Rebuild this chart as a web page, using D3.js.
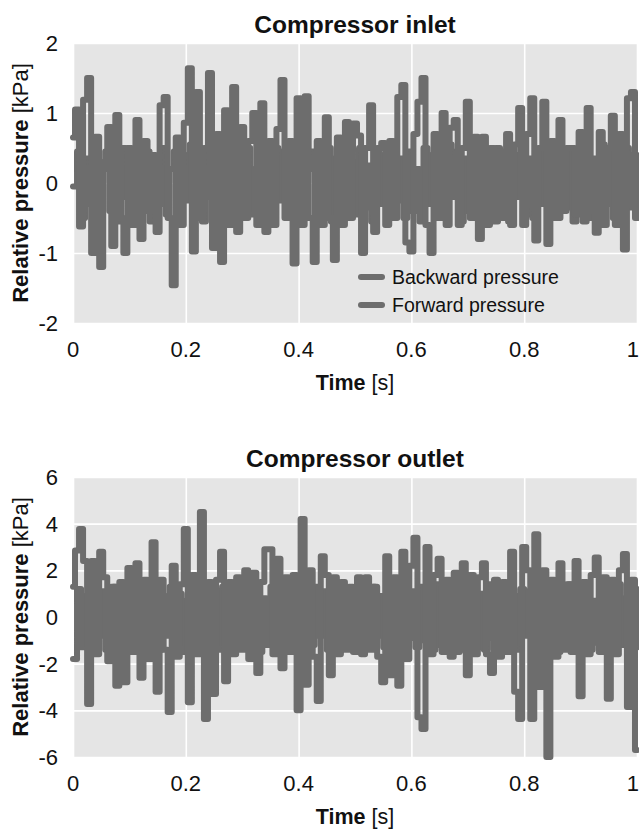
<!DOCTYPE html>
<html>
<head>
<meta charset="utf-8">
<script src="https://cdn.jsdelivr.net/npm/d3@7"></script>
<style>
  html, body { margin: 0; padding: 0; background: #ffffff; }
  svg { display: block; font-family: "Liberation Sans", Arial, Helvetica, sans-serif; }
</style>
</head>
<body>
<svg id="chart" width="639" height="829"></svg>
<script>
// Pressure traces sampled over one second (141 samples per trace)
const inletBackward = [
  -0.05, 0.45, -0.5, 0.35, -0.3, 0.5, -0.55, 0.2, 0.45, -0.4,
  0.3, -0.55, 0.5, -0.2, 0.4, -0.5, 0.25, -0.35, 0.45, -0.55,
  0.35, -0.3, 0.5, -0.45, 0.2, 0.45, -0.5, 0.4, -0.25, 0.55,
  -0.45, 0.3, -0.55, 0.45, -0.2, 0.35, -0.5, 0.5, -0.4, 0.25,
  -0.55, 0.45, -0.3, 0.5, -0.45, 0.2, 0.4, -0.5, 0.35, -0.55,
  0.5, -0.25, 0.45, -0.5, 0.3, -0.4, 0.55, -0.35, 0.2, 0.45,
  -0.5, 0.4, -0.3, 0.5, -0.55, 0.35, -0.2, 0.45, -0.5, 0.3,
  -0.45, 0.5, -0.35, 0.25, -0.55, 0.45, -0.3, 0.4, -0.5, 0.55,
  -0.25, 0.35, -0.5, 0.45, -0.4, 0.2, -0.55, 0.5, -0.3, 0.4,
  -0.45, 0.3, -0.5, 0.55, -0.2, 0.45, -0.55, 0.35, -0.4, 0.5,
  -0.3, 0.25, -0.5, 0.45, -0.35, 0.5, -0.45, 0.3, -0.55, 0.4,
  -0.2, 0.5, -0.45, 0.35, -0.5, 0.45, -0.3, 0.55, -0.4, 0.25,
  -0.5, 0.4, -0.35, 0.5, -0.55, 0.3, -0.25, 0.45, -0.5, 0.35,
  -0.4, 0.55, -0.3, 0.45, -0.5, 0.2, -0.45, 0.5, -0.35, 0.4,
  -0.5
];

const inletForward = [
  0.65, 1.05, -0.62, 1.19, 1.5, -1.0, 0.66, -1.2, 0.3, 0.8,
  -0.9, 0.97, -0.5, -1.0, 0.5, -0.6, 0.9, -0.8, 0.6, -0.4,
  0.4, -0.7, 1.11, 1.23, -0.5, -1.46, 0.65, -0.6, 0.86, 1.64,
  -0.98, 1.3, -0.5, 0.5, 1.57, -0.93, 0.7, -1.13, 1.04, -0.6,
  1.37, -0.7, 0.8, -0.5, 0.6, 1.0, -0.6, 1.14, -0.7, 0.6,
  -0.6, 0.77, 1.47, -0.5, 0.6, -1.15, 1.21, -0.6, 1.24, -0.5,
  -1.13, 0.6, -0.6, 0.94, -0.5, -1.1, 0.65, -0.6, 0.87, -0.5,
  0.85, 0.68, -1.0, 0.5, 1.11, -0.7, 0.5, 0.57, -0.6, 0.6,
  -0.5, 1.23, 1.4, -0.85, -0.98, 0.7, 1.16, 1.5, -0.6, -1.0,
  0.7, -0.5, 1.0, -0.6, 0.79, 0.9, -0.6, 0.5, 1.16, -0.5,
  0.66, -0.8, 0.66, -0.6, 0.5, -0.55, 0.45, -0.5, 0.7, -0.6,
  0.55, 1.07, -0.6, 0.7, 1.21, -0.82, 0.5, 1.16, -0.87, 0.6,
  -0.5, 0.9, -0.4, 0.5, 0.5, -0.45, 0.73, -0.55, 1.07, -0.4,
  -0.71, 0.73, -0.6, 0.5, 0.96, -0.6, 0.7, -0.95, 1.21, 1.3,
  -0.5
];

const outletBackward = [
  -1.8, 1.2, -1.3, 0.9, -1.1, 1.4, -0.8, 1.1, -1.4, 0.7,
  1.3, -1.2, 0.8, -1.5, 1.1, -0.9, 1.4, -1.3, 0.6, -1.1,
  1.2, -1.4, 0.9, -0.8, 1.3, -1.2, 1.0, -1.5, 0.7, 1.1,
  -1.3, 1.4, -0.9, 0.8, -1.2, 1.1, -1.4, 1.3, -0.7, 0.9,
  -1.3, 1.2, -1.1, 1.4, -0.8, 1.0, -1.5, 0.8, -1.2, 1.3,
  -0.9, 1.1, -1.4, 0.7, 1.2, -1.3, 1.4, -1.0, 0.9, -1.2,
  1.3, -0.8, 1.1, -1.4, 0.8, -1.1, 1.4, -1.3, 0.7, -0.9,
  1.2, -1.5, 1.0, -1.2, 1.3, -0.8, 0.9, -1.3, 1.4, -1.1,
  0.8, -1.4, 1.2, -0.9, 1.1, -1.3, 1.3, -1.0, 0.7, -1.4,
  1.4, -1.2, 0.9, -0.8, 1.2, -1.5, 1.1, -1.1, 0.8, 1.3,
  -1.3, 1.0, -1.4, 1.4, -0.9, 0.7, -1.2, 1.3, -1.1, 0.9,
  -1.4, 1.2, -0.8, 1.1, -1.3, 1.4, -1.0, 0.8, -1.2, 1.3,
  -1.5, 0.9, -1.1, 1.4, -0.8, 1.0, -1.3, 1.2, -1.4, 0.7,
  -1.1, 1.3, -0.9, 1.1, -1.4, 1.4, -1.2, 0.8, -1.0, 1.2,
  -1.3
];

const outletForward = [
  1.3, 2.85, 3.77, 2.4, -3.73, 2.4, -1.6, 2.8, 1.7, -1.9,
  1.3, -2.95, 1.5, -2.8, 2.1, -1.5, 2.3, -2.6, 1.6, -1.8,
  3.2, -3.2, 1.6, -1.4, -4.07, 2.2, -1.7, 1.4, 3.77, -3.65,
  1.8, -1.6, 4.5, -4.37, 1.5, -3.3, 1.6, 2.8, -2.75, 1.5,
  -1.6, 1.7, -1.4, 2.0, -1.8, 1.9, -2.4, 1.5, 2.9, 2.9,
  -1.6, 2.5, -2.2, 1.7, -1.5, 1.8, -4.0, 4.2, -2.9, 2.0,
  -1.7, -3.6, 2.6, 1.8, -2.5, 1.7, -1.6, 1.5, -1.4, 1.3,
  -1.5, 1.7, -1.6, 1.7, -1.4, 1.3, -1.7, -2.8, 2.6, -2.5,
  1.7, -2.95, 2.8, -1.8, 2.2, 3.4, -4.3, -4.8, 3.0, -1.6,
  1.8, 2.5, -1.5, 1.6, -1.7, 1.9, -1.4, 2.3, -2.5, 1.8,
  -1.6, 1.7, 2.3, -1.6, -2.4, 1.6, -1.7, 1.5, -1.5, 2.8,
  -3.2, -4.37, 3.0, 2.0, -4.37, 3.55, -3.0, 2.0, -6.0, 1.6,
  -1.7, 2.3, -1.4, 1.4, -1.5, 2.4, -3.4, 1.5, -1.6, 1.8,
  2.55, -1.5, 1.7, -3.5, 1.6, -1.6, 2.0, 2.7, -3.86, 1.6,
  -5.7
];

const xTicks = [0, 0.2, 0.4, 0.6, 0.8, 1];
const xTickLabels = ["0", "0.2", "0.4", "0.6", "0.8", "1"];
const inletTicks = [-2, -1, 0, 1, 2];
const outletTicks = [-6, -4, -2, 0, 2, 4, 6];
const seriesNames = ["Backward pressure", "Forward pressure"];

const panels = [
  { title: "Compressor inlet", domain: [-2, 2], ticks: inletTicks,
    series: [inletBackward, inletForward], top: 43, legend: true },
  { title: "Compressor outlet", domain: [-6, 6], ticks: outletTicks,
    series: [outletBackward, outletForward], top: 477, legend: false }
];

const svg = d3.select("#chart");
const left = 73, right = 637, plotH = 280;
const lineColor = "#6d6d6d";
const bg = "#e5e5e5";
const strokeW = 6;
// backward trace switches at sample instants, forward trace between them
const curves = [d3.curveStepAfter, d3.curveStep];

const x = d3.scaleLinear().domain([0, 1]).range([left, right]);

panels.forEach(p => {
  const y = d3.scaleLinear().domain(p.domain).range([p.top + plotH, p.top]);
  const g = svg.append("g");

  // plot background
  g.append("rect")
    .attr("x", left).attr("y", p.top)
    .attr("width", right - left).attr("height", plotH)
    .attr("fill", bg);

  // grid
  const gx = g.append("g")
    .attr("transform", `translate(0,${p.top + plotH})`)
    .call(d3.axisBottom(x).tickValues(xTicks).tickSize(-plotH).tickFormat(""));
  const gy = g.append("g")
    .attr("transform", `translate(${left},0)`)
    .call(d3.axisLeft(y).tickValues(p.ticks).tickSize(-(right - left)).tickFormat(""));
  [gx, gy].forEach(a => {
    a.select(".domain").remove();
    a.selectAll("line").attr("stroke", "#ffffff").attr("stroke-width", 1.6);
  });

  // tick labels (the last one is kept inside the page edge)
  g.append("g").selectAll("text").data(xTicks).join("text")
    .attr("x", (d, i) => i === xTicks.length - 1 ? 639 : x(d))
    .attr("y", p.top + plotH + 34)
    .attr("text-anchor", (d, i) => i === xTicks.length - 1 ? "end" : "middle")
    .attr("font-size", 22).attr("fill", "#111")
    .text((d, i) => xTickLabels[i]);
  g.append("g").selectAll("text").data(p.ticks).join("text")
    .attr("x", 58).attr("y", d => y(d)).attr("dy", "0.36em")
    .attr("text-anchor", "end").attr("font-size", 22).attr("fill", "#111")
    .text(d => d);

  // traces
  p.series.forEach((s, k) => {
    const line = d3.line()
      .x((d, i, arr) => x(i / (arr.length - 1)))
      .y(d => y(d))
      .curve(curves[k]);
    g.append("path")
      .datum(s)
      .attr("d", line)
      .attr("fill", "none")
      .attr("stroke", lineColor)
      .attr("stroke-width", strokeW)
      .attr("stroke-linejoin", "round")
      .attr("stroke-linecap", "round");
  });

  // title
  g.append("text")
    .attr("x", 355).attr("y", p.top - 10)
    .attr("text-anchor", "middle").attr("font-size", 24.5).attr("font-weight", "bold")
    .attr("fill", "#111")
    .text(p.title);

  // x-axis title
  const xt = g.append("text")
    .attr("x", 355).attr("y", p.top + plotH + 67)
    .attr("text-anchor", "middle").attr("font-size", 21.5).attr("fill", "#111");
  xt.append("tspan").attr("font-weight", "bold").text("Time");
  xt.append("tspan").text(" [s]");

  // y-axis title
  const yt = g.append("text")
    .attr("transform", `translate(28,${p.top + plotH / 2}) rotate(-90)`)
    .attr("text-anchor", "middle").attr("font-size", 22).attr("fill", "#111");
  yt.append("tspan").attr("font-weight", "bold").text("Relative pressure");
  yt.append("tspan").text(" [kPa]");

  // legend
  if (p.legend) {
    const lg = g.append("g");
    seriesNames.forEach((name, i) => {
      const ly = 277 + i * 28;
      lg.append("line")
        .attr("x1", 361).attr("x2", 382).attr("y1", ly).attr("y2", ly)
        .attr("stroke", lineColor).attr("stroke-width", strokeW)
        .attr("stroke-linecap", "round");
      lg.append("text")
        .attr("x", 392).attr("y", ly).attr("dy", "0.36em")
        .attr("font-size", 19.5).attr("fill", "#111")
        .text(name);
    });
  }
});
</script>
</body>
</html>
